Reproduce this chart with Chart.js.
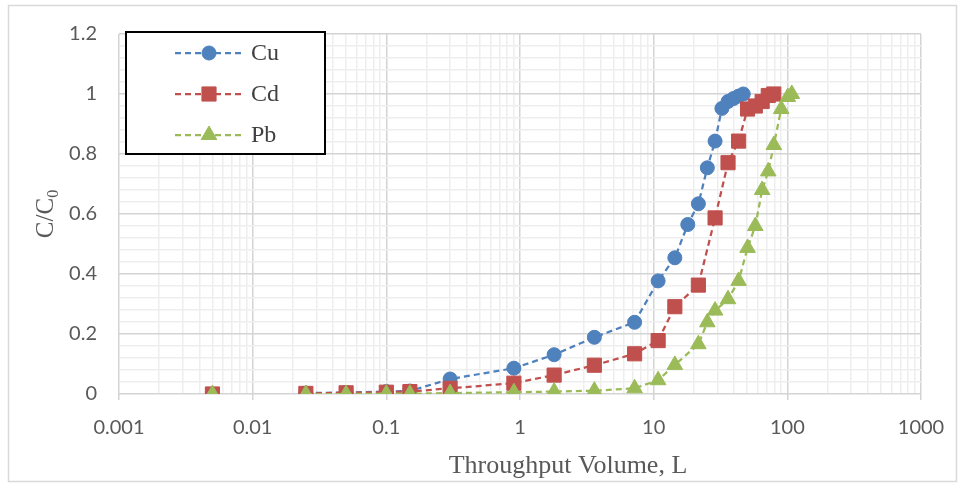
<!DOCTYPE html>
<html>
<head>
<meta charset="utf-8">
<script src="https://cdn.jsdelivr.net/npm/chart.js@4.4.0/dist/chart.umd.min.js"></script>
<style>
html, body { margin: 0; padding: 0; background: #fff; }
#wrap { width: 961px; height: 485px; }
</style>
</head>
<body>
<div id="wrap"><canvas id="myChart" width="961" height="485"></canvas></div>
<script>
// throughput volume (L) and C/C0
var cuVolume = [0.005, 0.025, 0.05, 0.1, 0.15, 0.3, 0.9, 1.8, 3.6, 7.2, 10.8, 14.4, 18, 21.6, 25.2, 28.8, 32.4, 36, 39.6, 43.2, 46.8];
var cuRatio = [0, 0.003, 0.005, 0.008, 0.01, 0.05, 0.086, 0.131, 0.189, 0.239, 0.377, 0.454, 0.565, 0.634, 0.754, 0.843, 0.952, 0.975, 0.985, 0.993, 1.0];

var cdVolume = [0.005, 0.025, 0.05, 0.1, 0.15, 0.3, 0.9, 1.8, 3.6, 7.2, 10.8, 14.4, 21.6, 28.8, 36, 43.2, 50.4, 57.6, 64.8, 72, 79.2];
var cdRatio = [0, 0.002, 0.004, 0.006, 0.008, 0.019, 0.036, 0.063, 0.096, 0.134, 0.178, 0.291, 0.363, 0.587, 0.771, 0.843, 0.95, 0.96, 0.975, 0.995, 1.0];

var pbVolume = [0.005, 0.025, 0.05, 0.1, 0.15, 0.3, 0.9, 1.8, 3.6, 7.2, 10.8, 14.4, 21.6, 25.2, 28.8, 36, 43.2, 50.4, 57.6, 64.8, 72, 79.2, 90, 100.8, 108];
var pbRatio = [0, 0, 0, 0.001, 0.001, 0.003, 0.006, 0.008, 0.011, 0.019, 0.046, 0.097, 0.166, 0.239, 0.278, 0.316, 0.377, 0.487, 0.56, 0.68, 0.742, 0.83, 0.95, 0.99, 1.0];

var seriesNames = ['Cu', 'Cd', 'Pb'];
var xTickLabels = ['0.001', '0.01', '0.1', '1', '10', '100', '1000'];
var yTickLabels = ['0', '0.2', '0.4', '0.6', '0.8', '1', '1.2'];
var xTitle = 'Throughput Volume, L';

var colors = ['#4F81BD', '#C0504D', '#9BBB59'];
var styles = ['circle', 'rect', 'triangle'];
var radii = [7, 10, 9];

function toPoints(xs, ys) {
    return xs.map(function(x, i) {
        return { x: x, y: ys[i] };
    });
}

function isDecade(v) {
    var l = Math.log10(v);
    return Math.abs(l - Math.round(l)) < 1e-6;
}

function isMajorY(v) {
    return Math.abs(v * 5 - Math.round(v * 5)) < 1e-6;
}

var allData = [toPoints(cuVolume, cuRatio), toPoints(cdVolume, cdRatio), toPoints(pbVolume, pbRatio)];

var datasets = allData.map(function(pts, i) {
    return {
        label: seriesNames[i],
        data: pts,
        borderColor: colors[i],
        backgroundColor: colors[i],
        borderWidth: 2.25,
        borderDash: [6, 4],
        pointStyle: styles[i],
        pointRadius: radii[i],
        pointBorderWidth: 1,
        showLine: true,
        tension: 0,
        // first point stands alone in the original
        segment: {
            borderColor: function(c) { return c.p0DataIndex === 0 ? 'rgba(0,0,0,0)' : undefined; }
        },
        order: 2 - i
    };
});

var framePlugin = {
    id: 'frame',
    beforeDraw: function(chart) {
        var ctx = chart.ctx;
        ctx.save();
        ctx.fillStyle = '#fff';
        ctx.fillRect(0, 0, chart.width, chart.height);
        ctx.restore();
    },
    afterDraw: function(chart) {
        var ctx = chart.ctx;
        ctx.save();

        // outer border
        ctx.strokeStyle = '#d9d9d9';
        ctx.lineWidth = 1.5;
        ctx.strokeRect(8.5, 5.5, 948, 476);

        // legend box
        ctx.fillStyle = '#fff';
        ctx.fillRect(126, 32, 199, 122);
        ctx.strokeStyle = '#000';
        ctx.lineWidth = 2;
        ctx.strokeRect(126, 32, 199, 122);

        chart.data.datasets.forEach(function(ds, i) {
            var y = 53 + i * 41;
            ctx.strokeStyle = ds.borderColor;
            ctx.lineWidth = 2.25;
            ctx.setLineDash([6, 4]);
            ctx.beginPath();
            ctx.moveTo(175, y);
            ctx.lineTo(245, y);
            ctx.stroke();
            ctx.setLineDash([]);
            ctx.fillStyle = ds.backgroundColor;
            ctx.lineWidth = 1;
            Chart.helpers.drawPoint(ctx, { pointStyle: ds.pointStyle, radius: ds.pointRadius, borderWidth: 1, rotation: 0 }, 209, y);
            ctx.fillStyle = '#404040';
            ctx.font = '24px "Liberation Serif"';
            ctx.textAlign = 'left';
            ctx.textBaseline = 'middle';
            ctx.fillText(ds.label, 251, y + 1);
        });

        // x title
        ctx.fillStyle = '#595959';
        ctx.font = '26px "Liberation Serif"';
        ctx.textAlign = 'center';
        ctx.textBaseline = 'middle';
        ctx.fillText(xTitle, 568, 466);

        // y title with subscript
        ctx.translate(45, 214);
        ctx.rotate(-Math.PI / 2);
        ctx.font = '25px "Liberation Serif"';
        var w1 = ctx.measureText('C/C').width;
        ctx.font = '16px "Liberation Serif"';
        var w2 = ctx.measureText('0').width;
        var start = -(w1 + w2) / 2;
        ctx.textAlign = 'left';
        ctx.textBaseline = 'alphabetic';
        ctx.font = '25px "Liberation Serif"';
        ctx.fillText('C/C', start, 8);
        ctx.font = '16px "Liberation Serif"';
        ctx.fillText('0', start + w1, 13);

        ctx.restore();
    }
};

new Chart(document.getElementById('myChart').getContext('2d'), {
    type: 'scatter',
    data: { datasets: datasets },
    options: {
        responsive: false,
        animation: false,
        layout: { padding: { top: 31, right: 40, left: 0, bottom: 0 } },
        plugins: {
            legend: { display: false },
            tooltip: { enabled: false }
        },
        scales: {
            x: {
                type: 'logarithmic',
                min: 0.001,
                max: 1000,
                afterBuildTicks: function(scale) {
                    var ticks = [];
                    xTickLabels.forEach(function(lbl, k) {
                        var base = parseFloat(lbl);
                        if (k === xTickLabels.length - 1) {
                            ticks.push({ value: base });
                            return;
                        }
                        for (var m = 1; m <= 9; m++) ticks.push({ value: base * m });
                    });
                    scale.ticks = ticks;
                },
                afterFit: function(scale) { scale.height = 91; },
                border: { display: false },
                grid: {
                    color: function(c) { return c.tick && isDecade(c.tick.value) ? '#d4d4d4' : '#eeeeee'; },
                    lineWidth: 1.5,
                    tickLength: 6,
                    tickColor: function(c) { return c.tick && isDecade(c.tick.value) ? '#d4d4d4' : 'rgba(0,0,0,0)'; }
                },
                ticks: {
                    autoSkip: false,
                    maxRotation: 0,
                    padding: 16,
                    color: '#595959',
                    font: { family: 'Lato', size: 20 },
                    callback: function(v) {
                        if (!isDecade(v)) return '';
                        var k = Math.round(Math.log10(v)) + 3;
                        return xTickLabels[k];
                    }
                }
            },
            y: {
                min: 0,
                max: 1.2,
                afterFit: function(scale) { scale.width = 119; },
                border: { display: false },
                grid: {
                    color: function(c) { return c.tick && isMajorY(c.tick.value) ? '#d4d4d4' : '#eeeeee'; },
                    lineWidth: 1.5,
                    drawTicks: false
                },
                ticks: {
                    stepSize: 0.04,
                    autoSkip: false,
                    padding: 22,
                    color: '#595959',
                    font: { family: 'Lato', size: 20 },
                    callback: function(v) {
                        if (!isMajorY(v)) return '';
                        return yTickLabels[Math.round(v * 5)];
                    }
                }
            }
        }
    },
    plugins: [framePlugin]
});
</script>
</body>
</html>
